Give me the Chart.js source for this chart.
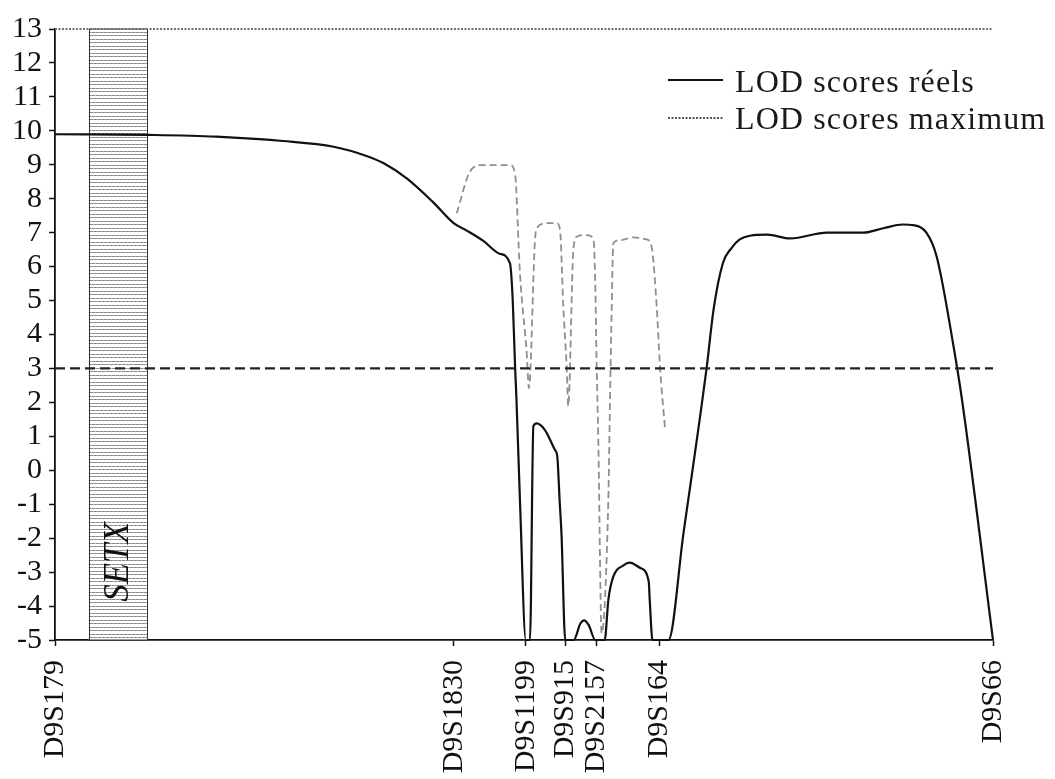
<!DOCTYPE html>
<html lang="fr">
<head>
<meta charset="utf-8">
<title>LOD scores – chromosome 9</title>
<script src="https://cdn.jsdelivr.net/npm/chart.js@4/dist/chart.umd.min.js"></script>
<style>
  html, body { margin: 0; padding: 0; background: #fff; }
  #wrap { width: 1055px; height: 779px; }
</style>
</head>
<body>
<div id="wrap"><canvas id="lod" width="1055" height="779"></canvas></div>
<script>
// Marqueurs microsatellites et leur position sur l'axe (cM relatifs)
const markerNames = ['D9S179', 'D9S1830', 'D9S1199', 'D9S915', 'D9S2157', 'D9S164', 'D9S66'];
const markerPos   = [0, 42.5, 50.2, 54.4, 57.7, 64.4, 100];

// Intervalle du gène SETX
const setxRegion = [3.6, 9.8];
const setxLabel = 'SETX';

// LOD scores réels (courbe pleine)
const realPos = [0, 10.0, 17.2, 24.3, 29.7, 33.2, 35.0, 37.5, 40.3, 42.5, 43.9, 45.7, 47.4, 48.5,
  48.8, 49.05, 49.2, 49.57, 50.2,
  50.64, 51.0, 51.35, 52.2, 53.3, 53.55, 53.8, 54.0, 54.4,
  55.3, 56.0, 56.4, 56.9, 57.6,
  58.6, 59.0, 59.5, 60.6, 61.3, 62.4, 63.3, 63.4, 63.7,
  65.4, 67.0, 69.5, 70.2, 71.2, 72.1, 73.0, 74.1, 75.9, 78.4, 82.3, 86.2, 88.3, 90.4, 91.5,
  92.9, 94.0, 95.8, 96.7, 100];
const realLod = [9.9, 9.88, 9.83, 9.7, 9.53, 9.26, 9.05, 8.6, 7.9, 7.28, 7.06, 6.75, 6.38, 6.1,
  5.0, 3.05, 2.07, -0.9, -5,
  -5, 1.3, 1.38, 1.2, 0.6, 0.4, -0.9, -1.9, -5,
  -5, -4.52, -4.42, -4.56, -5,
  -5, -3.8, -3.15, -2.8, -2.72, -2.88, -3.28, -3.8, -5,
  -5, -1.86, 3.08, 4.72, 6.1, 6.54, 6.8, 6.91, 6.94, 6.83, 7.0, 7.0, 7.13, 7.24, 7.22,
  7.0, 6.29, 3.64, 2.07, -5];

// LOD scores par intervalle (courbe grise en tirets)
const intervalPos = [42.83, 44.24, 45.49, 48.5, 49.04, 49.57, 50.29, 50.53,
  51.17, 51.35, 52.42, 53.49, 53.84, 54.19, 54.55, 54.72,
  55.26, 55.62, 56.68, 57.39, 57.57, 57.75, 57.92, 58.28,
  58.99, 59.17, 59.35, 59.52, 60.23, 61.65, 63.08, 63.6, 64.15, 64.5, 65.03];
const intervalLod = [7.57, 8.8, 8.99, 8.99, 8.75, 5.8, 3.44, 2.42,
  6.78, 7.13, 7.28, 7.28, 7.08, 4.82, 3.05, 1.9,
  6.49, 6.88, 6.93, 6.83, 5.8, 3.05, 0.9, -4.8,
  -0.88, 2.07, 4.82, 6.69, 6.78, 6.86, 6.8, 6.59, 4.82, 3.05, 1.24];

// Seuil de significativité et LOD score maximal théorique
const thresholdLod = 3;
const maxLod = 13;
const xRange = [0, 100];
const yRange = [-5, 13];

const legendLabels = ['LOD scores réels', 'LOD scores maximum'];

const pts = (xs, ys) => xs.map((x, i) => ({ x: x, y: ys[i] }));

const serif = "'Liberation Serif', 'Times New Roman', serif";

// Motif hachuré horizontal pour la zone du gène
function hatchPattern(ctx) {
  const c = document.createElement('canvas');
  c.width = 4; c.height = 7;
  const g = c.getContext('2d');
  g.fillStyle = '#ffffff';
  g.fillRect(0, 0, 4, 7);
  g.fillStyle = '#8a8a8a';
  g.fillRect(0, 0, 4, 1);
  g.fillRect(0, 4, 4, 1);
  g.fillStyle = '#b5b5b5';
  g.fillRect(1, 0, 1, 1);
  g.fillRect(3, 4, 1, 1);
  return ctx.createPattern(c, 'repeat');
}

const setxPlugin = {
  id: 'setxBox',
  beforeDatasetsDraw(chart) {
    const { ctx, scales: { x, y } } = chart;
    const x0 = x.getPixelForValue(setxRegion[0]);
    const x1 = x.getPixelForValue(setxRegion[1]);
    const y0 = y.getPixelForValue(yRange[1]);
    const y1 = y.getPixelForValue(yRange[0]);
    ctx.save();
    ctx.fillStyle = hatchPattern(ctx);
    ctx.fillRect(x0, y0, x1 - x0, y1 - y0);
    ctx.strokeStyle = '#333';
    ctx.lineWidth = 1;
    ctx.strokeRect(Math.round(x0) + 0.5, y0, Math.round(x1 - x0), y1 - y0);
    // nom du gène, écrit verticalement
    const cx = (x0 + x1) / 2;
    const cy = y.getPixelForValue(-2.7);
    ctx.translate(cx, cy);
    ctx.rotate(-Math.PI / 2);
    ctx.font = 'italic 35px ' + serif;
    ctx.fillStyle = '#111';
    ctx.textAlign = 'center';
    ctx.textBaseline = 'middle';
    ctx.fillText(setxLabel, 0, 1);
    ctx.restore();
  }
};

const legendPlugin = {
  id: 'lodLegend',
  afterDraw(chart) {
    const { ctx } = chart;
    ctx.save();
    ctx.lineWidth = 2;
    ctx.strokeStyle = '#111';
    ctx.beginPath();
    ctx.moveTo(668, 80);
    ctx.lineTo(723, 80);
    ctx.stroke();
    ctx.strokeStyle = '#555';
    ctx.setLineDash([2, 1.5]);
    ctx.beginPath();
    ctx.moveTo(668, 118);
    ctx.lineTo(723, 118);
    ctx.stroke();
    ctx.setLineDash([]);
    ctx.font = '32px ' + serif;
    if ('letterSpacing' in ctx) ctx.letterSpacing = '1.1px';
    ctx.fillStyle = '#1a1a1a';
    ctx.textBaseline = 'alphabetic';
    ctx.fillText(legendLabels[0], 735, 92);
    ctx.fillText(legendLabels[1], 735, 129);
    ctx.restore();
  }
};

new Chart(document.getElementById('lod'), {
  type: 'line',
  data: {
    datasets: [
      {
        label: legendLabels[1],
        data: pts(xRange, [maxLod, maxLod]),
        borderColor: '#6e6e6e',
        borderWidth: 2,
        borderDash: [2, 1.5],
        pointRadius: 0,
        clip: false
      },
      {
        label: 'Seuil',
        data: pts(xRange, [thresholdLod, thresholdLod]),
        borderColor: '#222',
        borderWidth: 2.2,
        borderDash: [10, 5],
        pointRadius: 0
      },
      {
        label: 'LOD scores par intervalle',
        data: pts(intervalPos, intervalLod),
        borderColor: '#8f8f8f',
        borderWidth: 1.8,
        borderDash: [7, 4],
        pointRadius: 0,
        cubicInterpolationMode: 'monotone'
      },
      {
        label: legendLabels[0],
        data: pts(realPos, realLod),
        borderColor: '#111',
        borderWidth: 2.2,
        pointRadius: 0,
        cubicInterpolationMode: 'monotone',
        clip: false
      }
    ]
  },
  options: {
    responsive: false,
    animation: false,
    events: [],
    layout: { padding: { top: 29, right: 62, left: 0, bottom: 0 } },
    plugins: {
      legend: { display: false },
      tooltip: { enabled: false }
    },
    scales: {
      x: {
        type: 'linear',
        min: xRange[0],
        max: xRange[1],
        afterBuildTicks(scale) {
          scale.ticks = markerPos.map(v => ({ value: v }));
        },
        afterFit(scale) { scale.height = 139; },
        ticks: {
          autoSkip: false,
          minRotation: 90,
          maxRotation: 90,
          padding: 14,
          color: '#111',
          font: { family: serif, size: 30 },
          callback: (v, i) => markerNames[i]
        },
        grid: {
          drawOnChartArea: false,
          drawTicks: true,
          tickLength: 6,
          tickColor: '#111',
          tickWidth: 1.5
        },
        border: { color: '#111', width: 1.8 }
      },
      y: {
        min: yRange[0],
        max: yRange[1],
        afterFit(scale) { scale.width = 55; },
        ticks: {
          stepSize: 1,
          autoSkip: false,
          padding: 7,
          color: '#111',
          font: { family: serif, size: 30 },
          callback: v => String(v)
        },
        grid: {
          drawOnChartArea: false,
          drawTicks: true,
          tickLength: 6,
          tickColor: '#111',
          tickWidth: 1.5
        },
        border: { color: '#111', width: 1.8 }
      }
    }
  },
  plugins: [setxPlugin, legendPlugin]
});
</script>
</body>
</html>
